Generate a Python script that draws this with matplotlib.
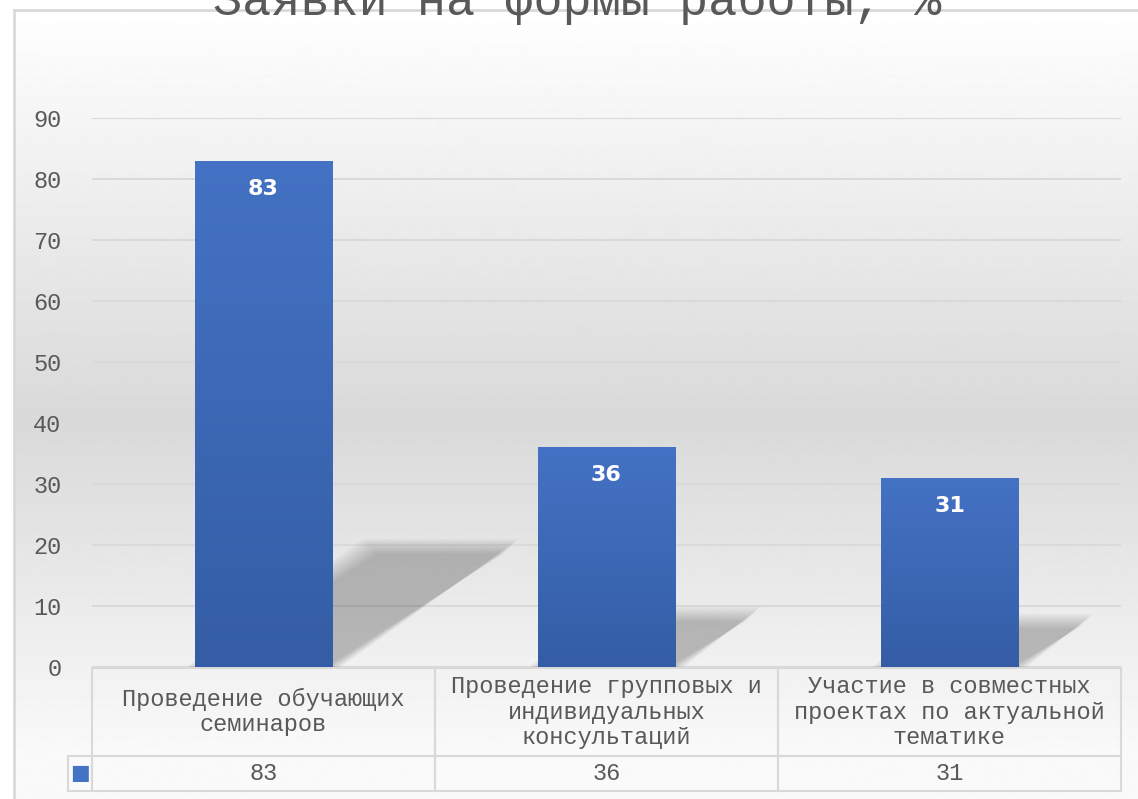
import numpy as np
import matplotlib.pyplot as plt
from matplotlib.colors import LinearSegmentedColormap
from matplotlib.patches import Polygon

plt.rcParams['font.family'] = ['Liberation Mono', 'DejaVu Sans']

title = "Заявки на формы работы, %"
categories = [
    "Проведение обучающих\nсеминаров",
    "Проведение групповых и\nиндивидуальных\nконсультаций",
    "Участие в совместных\nпроектах по актуальной\nтематике",
]
values = [83, 36, 31]
yticks = list(range(0, 91, 10))

W, H = 1138, 799
fig = plt.figure(figsize=(W / 100, H / 100), dpi=100)
fig.patch.set_facecolor('white')

# chart area background: light -> grey -> light gradient, with a thin border
bg = fig.add_axes([14 / W, -0.03, 1.0, 1 - 10 / H + 0.03])
rows = np.arange(10, H + 25)
shade = np.interp(rows, [10, 420, 760], [255, 217, 250]).reshape(-1, 1)
bg.imshow(shade, extent=[0, 1, 0, 1], aspect='auto', cmap='gray', vmin=0, vmax=255)
for side in ['right', 'bottom']:
    bg.spines[side].set_visible(False)
for side in ['left', 'top']:
    bg.spines[side].set_color('#d9d9d9')
    bg.spines[side].set_linewidth(2)
bg.set_xticks([])
bg.set_yticks([])

AX_W, AX_H = 1029, 549
ax = fig.add_axes([92 / W, 1 - 667 / H, AX_W / W, AX_H / H])
ax.patch.set_alpha(0)
x = np.arange(len(categories))
width = 0.4

bars = ax.bar(x, values, width=width, color='#4472c4', zorder=3)
bar_cmap = LinearSegmentedColormap.from_list('bar', ['#345da5', '#4472c4'])
grad = np.linspace(0, 1, 256).reshape(-1, 1)
for rect in bars:
    im = ax.imshow(grad, extent=[rect.get_x(), rect.get_x() + rect.get_width(), 0, rect.get_height()],
                   origin='lower', aspect='auto', cmap=bar_cmap, zorder=3)
    im.set_clip_path(rect)

# perspective shadows behind bars (soft edges by stacking)
px_x = AX_W / 3.0
px_y = AX_H / 90.0
for xi, v in zip(x, values):
    h = v * 0.235
    s = v * 0.235 * px_y * 1.49 / px_x
    xl, xr = xi - width / 2, xi + width / 2
    for k in range(9):
        e = (k - 3) * 1.8
        ex = e / px_x
        ey = e / px_y
        pts = [(xl - ex, 0), (xr + ex, 0), (xr + s + ex, h + ey), (xl + s - ex, h + ey)]
        ax.add_patch(Polygon(pts, closed=True, facecolor='black', edgecolor='none',
                             alpha=0.028, zorder=2))

for xi, v in zip(x, values):
    ax.annotate(str(v), (xi, v), xytext=(0, -18), textcoords='offset pixels',
                ha='center', va='top', color='white', fontsize=16, fontweight='bold',
                family='DejaVu Sans', zorder=5)

ax.set_xlim(-0.5, 2.5)
ax.set_ylim(0, 90)
ax.set_yticks(yticks)
ax.set_xticks([])
ax.tick_params(axis='y', length=0, pad=22, labelsize=17, labelcolor='#595959')
ax.grid(axis='y', color='#d9d9d9', linewidth=1.5)
ax.set_axisbelow(True)
for sp in ax.spines.values():
    sp.set_visible(False)

# data table under the chart (bbox covers the data columns; row label sits left of it)
tbl = ax.table(cellText=[[str(v) for v in values]], colLabels=categories,
               rowLabels=['■'], cellLoc='center', rowLoc='center', colLoc='center',
               bbox=[0, -123 / AX_H - 1 / AX_H, 1.0, 123 / AX_H])
tbl.auto_set_font_size(False)
for (r, c), cell in tbl.get_celld().items():
    cell.set_facecolor('none')
    cell.set_edgecolor('#d9d9d9')
    cell.set_linewidth(1.5)
    cell.set_width((32 if c == -1 else 343) / AX_W)
    cell.set_height((88 if r == 0 else 35) / AX_H)
    t = cell.get_text()
    t.set_fontsize(17)
    t.set_color('#595959')
    t.set_linespacing(1.12)
    if c == -1:
        t.set_color('#4472c4')
        t.set_fontfamily('DejaVu Sans')
        t.set_fontsize(15)
        t.set_horizontalalignment('center')
        cell._loc = 'center'

fig.text(577 / W, 1 - 15 / H, title, ha='center', va='baseline', fontsize=35, color='#595959')

fig.savefig('out.png', dpi=100)
